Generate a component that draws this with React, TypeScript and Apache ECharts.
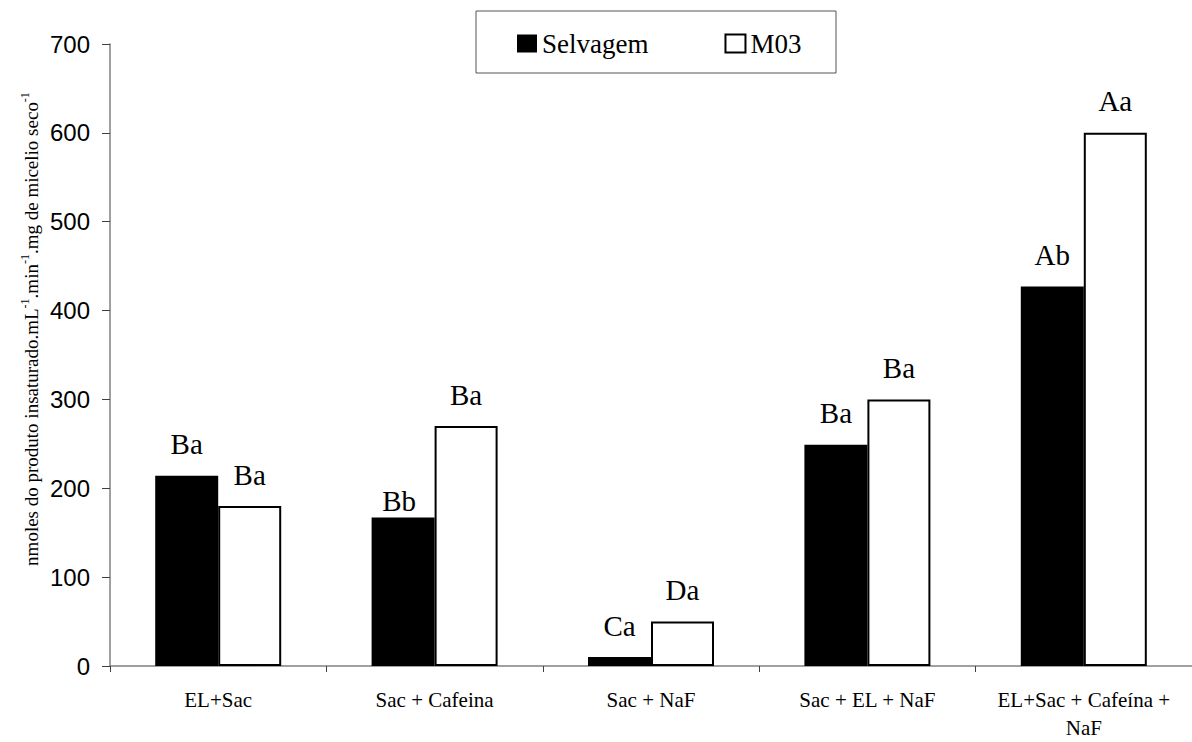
import React, { useEffect, useRef } from "react";
import * as echarts from "echarts";

const categories = [
  "EL+Sac",
  "Sac + Cafeina",
  "Sac + NaF",
  "Sac + EL + NaF",
  "EL+Sac + Cafeína +\nNaF",
];
const seriesNames = ["Selvagem", "M03"];
const selvagemValues = [214, 167, 10, 249, 427];
const m03Values = [180, 270, 50, 300, 600];
const selvagemLetters = ["Ba", "Bb", "Ca", "Ba", "Ab"];
const m03Letters = ["Ba", "Ba", "Da", "Ba", "Aa"];
const yTicks = { min: 0, max: 700, interval: 100 };

const SERIF = "Liberation Serif";
const SANS = "Liberation Sans";

export default function App() {
  const ref = useRef<HTMLDivElement>(null);
  useEffect(() => {
    if (!ref.current) return;
    const chart = echarts.init(ref.current, null, { renderer: "svg" });
    const labelBase = {
      show: true,
      position: "top",
      distance: 17,
      color: "#000",
      fontFamily: SERIF,
      fontSize: 29,
    };
    chart.setOption({
      animation: false,
      backgroundColor: "#fff",
      grid: { left: 110, top: 44, width: 1092, height: 628, containLabel: false },
      legend: {
        data: seriesNames,
        left: 517,
        top: 30,
        padding: 0,
        itemWidth: 20,
        itemHeight: 18,
        itemGap: 76,
        icon: "rect",
        textStyle: { fontFamily: SERIF, fontSize: 27, color: "#000" },
      },
      graphic: [
        {
          type: "rect",
          shape: { x: 476, y: 11, width: 360, height: 62 },
          style: { fill: "none", stroke: "#555", lineWidth: 1 },
          silent: true,
        },
        {
          type: "text",
          x: 30,
          y: 329,
          rotation: Math.PI / 2,
          style: {
            text:
              "{a|nmoles do produto insaturado.mL}{s|-1}{a|.min}{s|-1}{a|.mg de micelio seco}{s|-1}",
            align: "center",
            verticalAlign: "middle",
            rich: {
              a: { fontFamily: SERIF, fontSize: 19, color: "#000", lineHeight: 22, verticalAlign: "bottom" },
              s: { fontFamily: SERIF, fontSize: 12, color: "#000", lineHeight: 12, verticalAlign: "top" },
            },
          },
        },
      ],
      xAxis: {
        type: "category",
        data: categories,
        boundaryGap: true,
        axisLine: { lineStyle: { color: "#808080", width: 1.5 } },
        axisTick: { show: true, length: 6, inside: false, lineStyle: { color: "#404040", width: 1 } },
        axisLabel: {
          color: "#000",
          fontFamily: SERIF,
          fontSize: 21,
          lineHeight: 28,
          margin: 20,
          interval: 0,
        },
      },
      yAxis: {
        type: "value",
        min: yTicks.min,
        max: yTicks.max,
        interval: yTicks.interval,
        splitLine: { show: false },
        axisLine: { show: true, lineStyle: { color: "#808080", width: 1.5 } },
        axisTick: { show: true, length: 8, lineStyle: { color: "#404040", width: 1 } },
        axisLabel: { color: "#000", fontFamily: SANS, fontSize: 24, margin: 20 },
      },
      series: [
        {
          name: seriesNames[0],
          type: "bar",
          barWidth: 63,
          barGap: "0%",
          itemStyle: { color: "#000", borderColor: "#000", borderWidth: 0 },
          data: selvagemValues.map((v, i) => ({
            value: v,
            label: i === 1 ? { offset: [-4, 15] } : {},
          })),
          label: {
            ...labelBase,
            formatter: (p: any) => selvagemLetters[p.dataIndex],
          },
        },
        {
          name: seriesNames[1],
          type: "bar",
          barWidth: 63,
          barGap: "0%",
          itemStyle: { color: "#fff", borderColor: "#000", borderWidth: 2 },
          data: m03Values,
          label: {
            ...labelBase,
            formatter: (p: any) => m03Letters[p.dataIndex],
          },
        },
      ],
    });
    return () => chart.dispose();
  }, []);
  return (
    <div
      ref={ref}
      style={{ position: "fixed", left: 0, top: 0, width: 1192, height: 742, background: "#fff" }}
    />
  );
}
